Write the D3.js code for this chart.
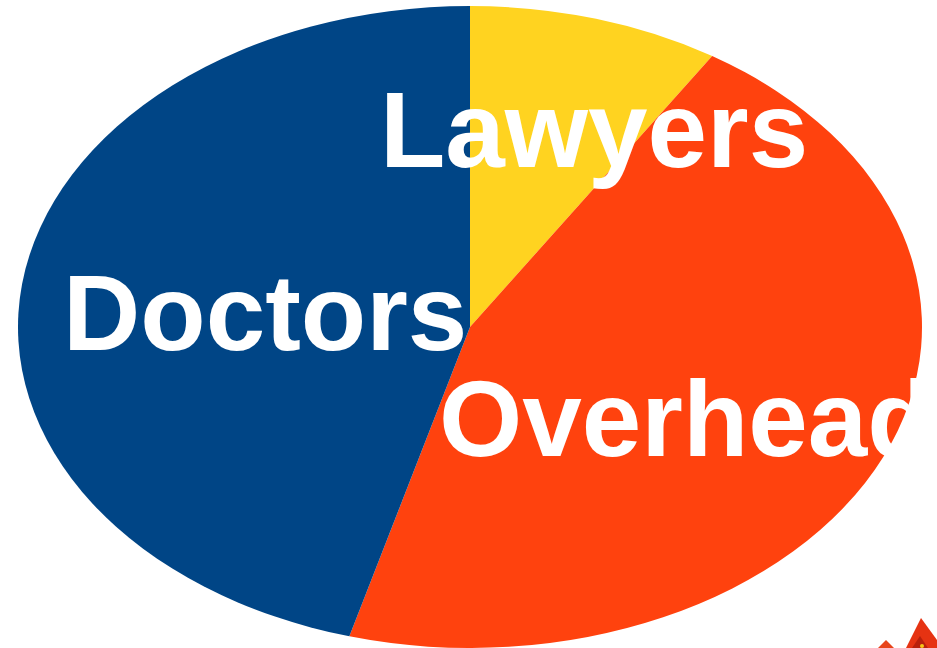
<!DOCTYPE html>
<html>
<head>
<meta charset="utf-8">
<script src="https://cdn.jsdelivr.net/npm/d3@7"></script>
<style>
  html, body { margin: 0; padding: 0; background: #fff; overflow: hidden; }
  svg { display: block; }
</style>
</head>
<body>
<svg id="pie"></svg>
<script>
// Slices, clockwise from 12 o'clock
const categories = ["Lawyers", "Overhead", "Doctors"];
const shares = [9.0, 45.3, 45.7];
const colors = ["#ffd320", "#ff420e", "#004586"];

const width = 937;
const height = 648;

// Ellipse geometry
const cx = 470, cy = 327;
const rx = 452, ry = 321;

const svg = d3.select("#pie")
    .attr("width", width)
    .attr("height", height);

const data = categories.map((c, i) => ({ name: c, value: shares[i], color: colors[i] }));

const pie = d3.pie()
    .sort(null)
    .value(d => d.value);

const arc = d3.arc()
    .innerRadius(0)
    .outerRadius(ry);

// Draw the pie as a circle stretched horizontally into an ellipse
const g = svg.append("g")
    .attr("transform", `translate(${cx}, ${cy}) scale(${rx / ry}, 1)`);

g.selectAll("path")
    .data(pie(data))
    .enter()
    .append("path")
    .attr("d", arc)
    .attr("fill", d => d.data.color);

// Labels placed by hand, as in the original slide
const labelPos = {
    "Lawyers": [380, 167],
    "Doctors": [63, 350],
    "Overhead": [439, 456]
};

svg.selectAll(".label")
    .data(data)
    .enter()
    .append("text")
    .attr("class", "label")
    .attr("x", d => labelPos[d.name][0])
    .attr("y", d => labelPos[d.name][1])
    .attr("fill", "#fff")
    .style("font-family", "'Liberation Sans', Arial, sans-serif")
    .style("font-weight", "bold")
    .style("font-size", "107px")
    .text(d => d.name);

// Corner logo fragment (bottom right)
const logo = svg.append("g");
logo.append("path")
    .attr("d", "M878,648 L886,640 L894,648 Z")
    .attr("fill", "#e8441a");
logo.append("path")
    .attr("d", "M906,648 L921,618 L937,640 L937,648 Z")
    .attr("fill", "#e63312");
logo.append("path")
    .attr("d", "M912,648 L920,636 L928,648 Z")
    .attr("fill", "#b8200c");
logo.append("circle")
    .attr("cx", 922)
    .attr("cy", 646)
    .attr("r", 2)
    .attr("fill", "#f5c518");
</script>
</body>
</html>
